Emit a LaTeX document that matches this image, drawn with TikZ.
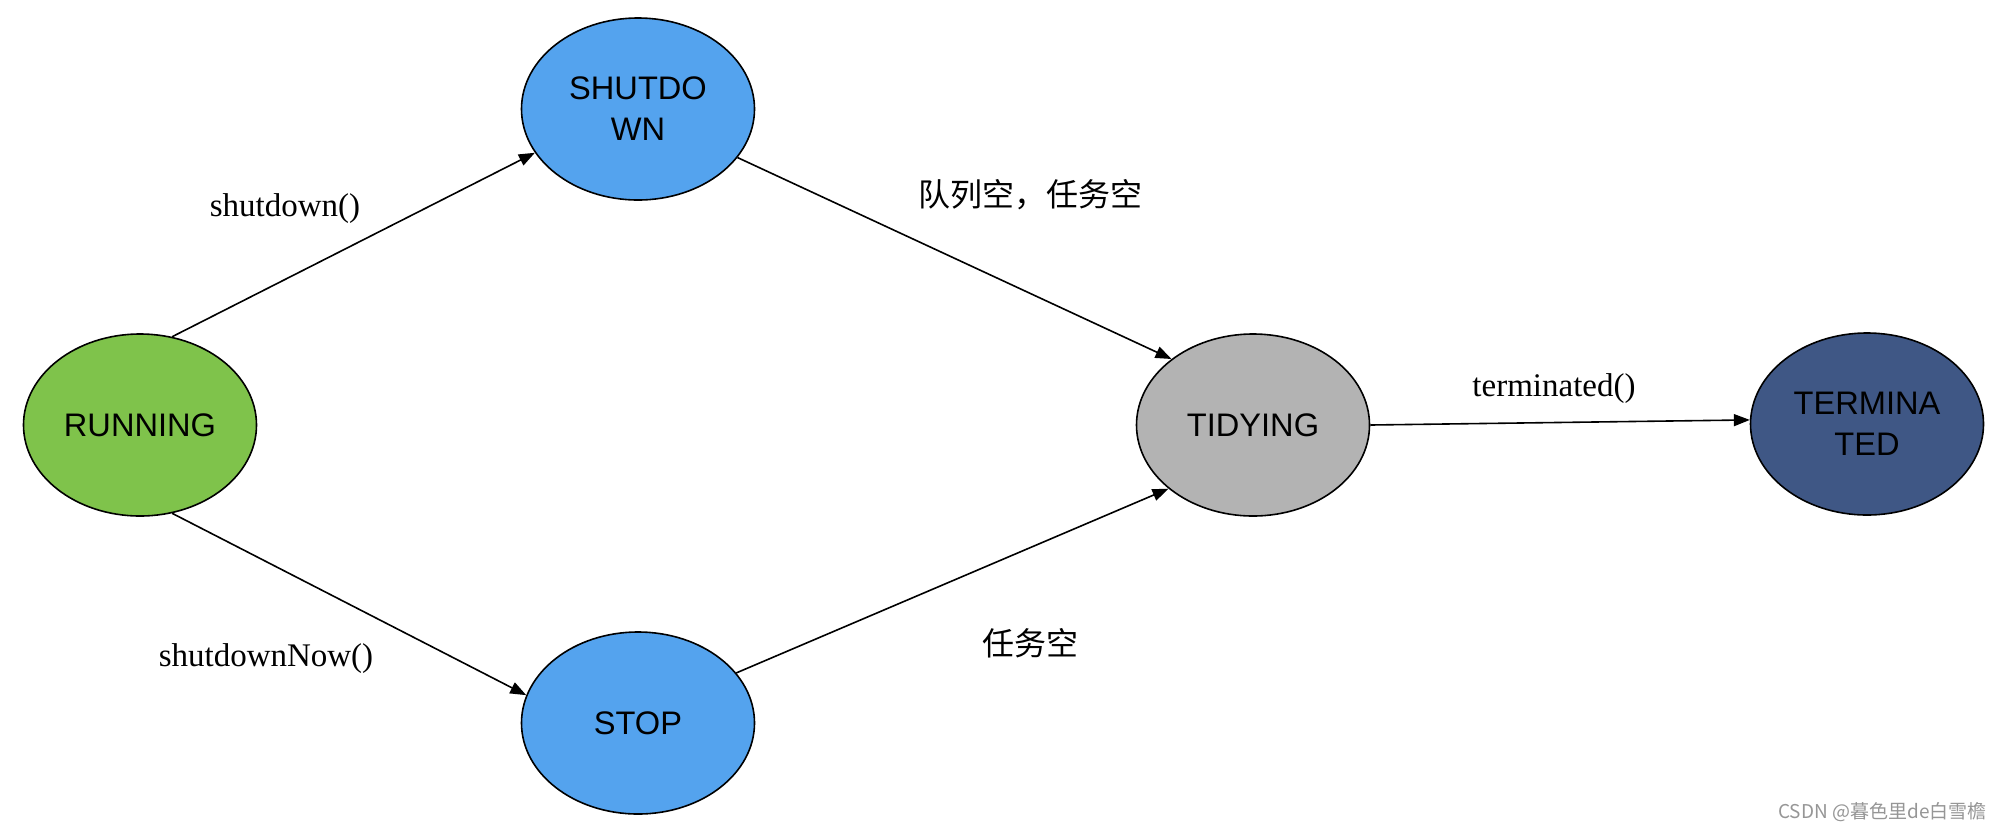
\documentclass[tikz,border=0pt]{standalone}
\usepackage{fontspec}
\setmainfont{Liberation Serif}
\newfontfamily\arialfont{Liberation Sans}
\newfontfamily\cjkfont{Noto Sans CJK SC}
\usetikzlibrary{shapes.geometric,arrows.meta}
\definecolor{runc}{RGB}{127,195,75}
\definecolor{bluec}{RGB}{84,163,238}
\definecolor{tidyc}{RGB}{179,179,179}
\definecolor{termc}{RGB}{63,87,133}
\definecolor{wmc}{RGB}{150,150,150}
\tikzset{
  state/.style={ellipse, draw=black, line width=0.8pt, minimum width=116.5pt, minimum height=91pt, inner sep=0pt,
    font=\arialfont\fontsize{16.3}{20.5}\selectfont, align=center, text=black},
  conn/.style={line width=0.8pt, -{Triangle[length=8pt,width=6pt]}},
  lbl/.style={font=\fontsize{16.5}{20}\selectfont, inner sep=0pt},
  cjklbl/.style={font=\cjkfont\fontsize{16}{20}\selectfont, inner sep=0pt},
}
\begin{document}
\begin{tikzpicture}[x=0.5pt,y=-0.5pt]
\useasboundingbox[fill=white] (0,0) rectangle (2002,832);
\node[state, fill=runc] (run) at (140,425) {RUNNING};
\node[state, fill=bluec] (shut) at (638,109) {SHUTDO\\WN};
\node[state, fill=bluec] (stop) at (638,723) {STOP};
\node[state, fill=tidyc] (tidy) at (1253,425) {TIDYING};
\node[state, fill=termc] (term) at (1867,424) {TERMINA\\TED};

\draw[conn] (run.70) -- (shut.203);
\draw[conn] (run.290) -- (stop.166);
\draw[conn] (shut.334) -- (tidy.141);
\draw[conn] (stop.27) -- (tidy.217);
\draw[conn] (tidy.east) -- (term.178);

\node[lbl] (l1) at (285,209) {shutdown()};
\node[lbl] (l2) at (266,659) {shutdownNow()};
\node[cjklbl] (l3) at (1030,195) {队列空，任务空};
\node[cjklbl] (l4) at (1030,643) {任务空};
\node[lbl] (l5) at (1554,389) {terminated()};

\node[font=\cjkfont\fontsize{9.5}{11}\selectfont, text=wmc, inner sep=0pt, anchor=east] (wm) at (1987,812) {CSDN @暮色里de白雪檐};
\end{tikzpicture}
\end{document}
